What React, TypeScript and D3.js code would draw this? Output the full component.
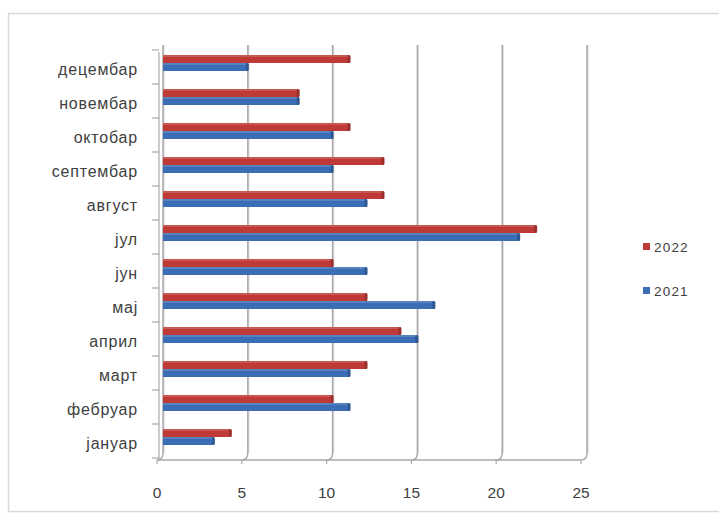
import * as d3 from 'd3'

const months = ['јануар', 'фебруар', 'март', 'април', 'мај', 'јун', 'јул', 'август', 'септембар', 'октобар', 'новембар', 'децембар']
const values2022 = [4, 10, 12, 14, 12, 10, 22, 13, 13, 11, 8, 11]
const values2021 = [3, 11, 11, 15, 16, 12, 21, 12, 10, 10, 8, 5]
const xTicks = [0, 5, 10, 15, 20, 25]
const seriesNames = ['2022', '2021']

const RED = '#bf3a37'
const BLUE = '#3a6db5'
const GRID = '#a9a9a9'
const TEXT = '#404040'

export default function App() {
  const width = 719
  const height = 518
  // back wall of the 3-D plot, and how far the front edge sits from it
  const wall = { left: 163, right: 587, top: 45, bottom: 453 }
  const depth = { dx: -6, dy: 7 }

  const x = d3.scaleLinear().domain([0, 25]).range([wall.left, wall.right])
  const y = d3
    .scaleBand<string>()
    .domain([...months].reverse())
    .range([wall.top, wall.bottom])
    .paddingInner(0)
  const barH = 8
  const font = '"Liberation Sans", Arial, sans-serif'

  return (
    <div style={{ position: 'absolute', left: 0, top: 0, width, height, background: '#fff' }}>
      <svg width={width} height={height} style={{ display: 'block' }}>
        <rect x={8.5} y={13.5} width={712} height={498} fill="#fff" stroke="#d9d9d9" strokeWidth={1.5} />

        {/* back wall grid lines + floor */}
        {xTicks.map((t) => (
          <g key={t}>
            <line x1={x(t) + 1} x2={x(t) + 1} y1={wall.top} y2={wall.bottom} stroke="#e0e0e0" strokeWidth={1.5} />
            <line x1={x(t)} x2={x(t)} y1={wall.top} y2={wall.bottom} stroke={GRID} strokeWidth={1.5} />
            <path
              d={`M${x(t)},${wall.bottom} Q${x(t)},${wall.bottom + depth.dy} ${x(t) + depth.dx},${wall.bottom + depth.dy}`}
              fill="none"
              stroke={GRID}
              strokeWidth={1.5}
            />
            <line
              x1={x(t) + depth.dx}
              x2={x(t) + depth.dx}
              y1={wall.bottom + depth.dy}
              y2={wall.bottom + depth.dy + 4}
              stroke={GRID}
              strokeWidth={1.2}
            />
            <text
              x={x(t) + depth.dx}
              y={498}
              textAnchor="middle"
              fontFamily={font}
              fontSize={15.5}
              fill={TEXT}
            >
              {t}
            </text>
          </g>
        ))}
        <line
          x1={x(0) + depth.dx}
          x2={x(25) + depth.dx}
          y1={wall.bottom + depth.dy}
          y2={wall.bottom + depth.dy}
          stroke={GRID}
          strokeWidth={1.5}
        />

        {/* left axis with ticks on the front edge */}
        <line
          x1={x(0) + depth.dx + 2}
          x2={x(0) + depth.dx + 2}
          y1={wall.top + depth.dy}
          y2={wall.bottom + depth.dy}
          stroke={GRID}
          strokeWidth={1.2}
        />
        {[...y.domain(), ''].map((m, i) => {
          const yy = wall.top + i * y.step() + depth.dy - 2
          return (
            <line key={i} x1={x(0) - 11} x2={x(0) - 4} y1={yy} y2={yy} stroke={GRID} strokeWidth={1.2} />
          )
        })}

        {/* bars */}
        {months.map((m, i) => {
          const y0 = (y(m) ?? 0) + 10
          const bars = [
            { v: values2022[i], c: RED, yy: y0 },
            { v: values2021[i], c: BLUE, yy: y0 + barH },
          ]
          return (
            <g key={m}>
              {bars.map((b, j) => (
                <g key={j}>
                  <rect x={x(0)} y={b.yy} width={x(b.v) - x(0)} height={barH} fill={b.c} />
                  <rect x={x(0)} y={b.yy} width={x(b.v) - x(0)} height={2} fill="#fff" opacity={0.15} />
                  <rect
                    x={x(b.v) - 2}
                    y={b.yy}
                    width={3}
                    height={barH}
                    rx={1.5}
                    fill={d3.color(b.c)!.darker(0.6).toString()}
                  />
                </g>
              ))}
              <text
                x={138}
                y={(y(m) ?? 0) + y.bandwidth() / 2 + 13}
                textAnchor="end"
                fontFamily={font}
                fontSize={16}
                letterSpacing={0.8}
                fill={TEXT}
              >
                {m}
              </text>
            </g>
          )
        })}

        {/* legend */}
        {seriesNames.map((s, i) => (
          <g key={s} transform={`translate(643,${243 + i * 44})`}>
            <rect x={0} y={0} width={7} height={7} fill={i === 0 ? RED : BLUE} />
            <text x={11} y={8.5} fontFamily={font} fontSize={13.5} letterSpacing={1.2} fill={TEXT}>
              {s}
            </text>
          </g>
        ))}
      </svg>
    </div>
  )
}
